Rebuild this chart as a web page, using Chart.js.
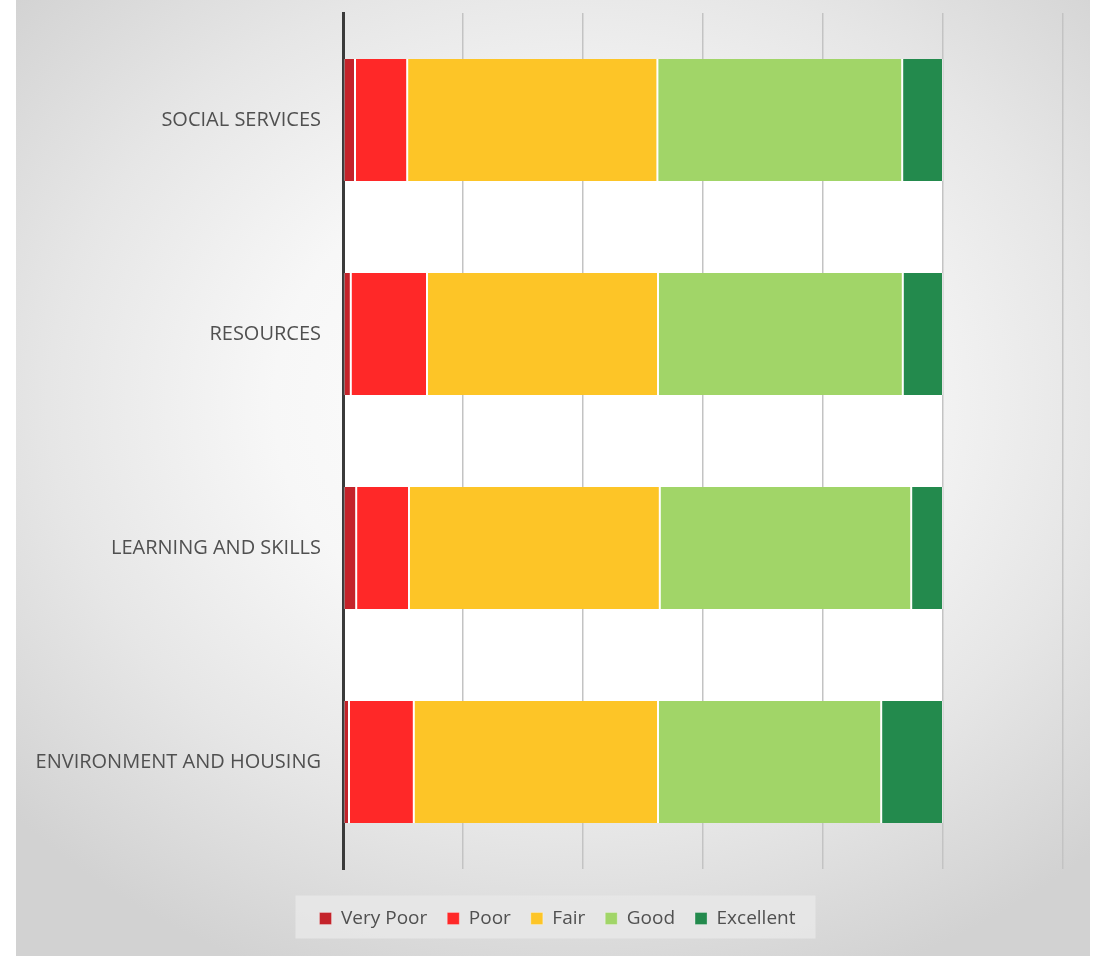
<!DOCTYPE html>
<html>
<head>
<meta charset="utf-8">
<script src="https://cdn.jsdelivr.net/npm/chart.js@4"></script>
<style>
    body { margin: 0; background: #ffffff; }
    #panel {
        position: absolute;
        left: 16px; top: 0;
        width: 1074px; height: 956px;
        background: radial-gradient(ellipse 70% 65% at 52% 42%, #ffffff 0%, #f7f7f7 40%, #e6e6e6 70%, #d2d2d2 100%);
    }
</style>
</head>
<body>
<div id="panel"><canvas id="chart"></canvas></div>
<script>
// Categories, top to bottom
const categories = ['SOCIAL SERVICES', 'RESOURCES', 'LEARNING AND SKILLS', 'ENVIRONMENT AND HOUSING'];

// Share of answers (%) per rating
const veryPoor  = [2.0, 1.3, 2.2, 1.0];
const poor      = [8.7, 12.7, 8.8, 10.8];
const fair      = [41.7, 38.5, 41.8, 40.7];
const good      = [40.8, 40.8, 41.9, 37.2];
const excellent = [6.8, 6.7, 5.3, 10.3];

const seriesNames = ['Very Poor', 'Poor', 'Fair', 'Good', 'Excellent'];
const seriesColors = ['#c4232a', '#ff2828', '#fdc527', '#a1d568', '#238a4d'];
const seriesData = [veryPoor, poor, fair, good, excellent];

// White band behind the bars and the grey box behind the legend
const backdrop = {
    id: 'backdrop',
    afterLayout(chart) {
        // legend sits a little right of the canvas centre in the original
        const lg = chart.legend;
        lg.left += 18;
        lg.right += 18;
    },
    beforeDraw(chart) {
        const ctx = chart.ctx;
        const x = chart.scales.x;
        const meta = chart.getDatasetMeta(0);
        const first = meta.data[0], last = meta.data[meta.data.length - 1];
        ctx.save();
        ctx.fillStyle = '#ffffff';
        const x0 = x.getPixelForValue(0), x1 = x.getPixelForValue(100);
        const y0 = first.y - first.height / 2, y1 = last.y + last.height / 2;
        ctx.fillRect(x0, y0, x1 - x0, y1 - y0);

        const lg = chart.legend;
        const cx = (lg.left + lg.right) / 2;
        const cy = lg.top + lg.height / 2;
        const w = (lg.lineWidths ? lg.lineWidths[0] : 490) + 24;
        ctx.fillStyle = 'rgba(232,232,232,0.85)';
        ctx.fillRect(cx - w / 2 - 2, cy - 18, w, 43);
        ctx.restore();
    }
};

new Chart(document.getElementById('chart'), {
    type: 'bar',
    data: {
        labels: categories,
        datasets: seriesNames.map((name, i) => ({
            label: name,
            data: seriesData[i],
            backgroundColor: seriesColors[i],
            borderColor: 'rgba(255,255,255,0.55)',
            borderWidth: { left: 1, right: 1, top: 0, bottom: 0 },
            borderSkipped: false,
            categoryPercentage: 1.0,
            barPercentage: 0.57
        }))
    },
    options: {
        indexAxis: 'y',
        responsive: true,
        maintainAspectRatio: false,
        animation: false,
        layout: { padding: { top: 13, right: 27, bottom: 18, left: 0 } },
        scales: {
            x: {
                stacked: true,
                min: 0,
                max: 120,
                afterFit: (scale) => { scale.height = 20; },
                ticks: { display: false, stepSize: 20 },
                grid: { color: '#c3c3c3', lineWidth: 1.5, drawTicks: false },
                border: { display: false }
            },
            y: {
                stacked: true,
                afterFit: (scale) => {
                    scale.width = 327;
                    scale.paddingTop = 0;
                    scale.paddingBottom = 0;
                },
                ticks: {
                    padding: 14,
                    color: '#505050',
                    font: { family: 'Open Sans', size: 20 }
                },
                grid: { display: false },
                border: { display: true, color: '#3a3a3a', width: 3 }
            }
        },
        plugins: {
            legend: {
                position: 'bottom',
                labels: {
                    boxWidth: 12,
                    boxHeight: 12,
                    padding: 20,
                    color: '#505050',
                    font: { family: 'Open Sans', size: 19 }
                }
            },
            tooltip: { enabled: false }
        }
    },
    plugins: [backdrop]
});
</script>
</body>
</html>
